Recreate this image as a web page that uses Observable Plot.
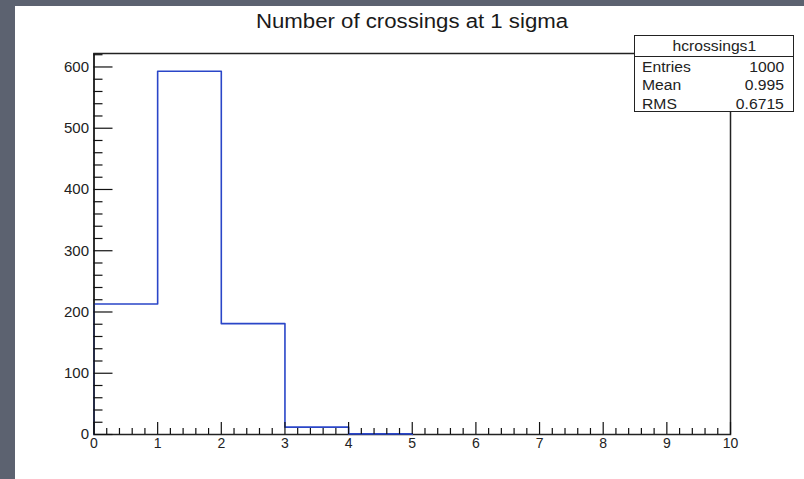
<!DOCTYPE html>
<html><head><meta charset="utf-8">
<script src="https://cdn.jsdelivr.net/npm/d3@7"></script>
<script src="https://cdn.jsdelivr.net/npm/@observablehq/plot@0.6"></script>
<style>
html,body{margin:0;padding:0;}
body{width:804px;height:479px;overflow:hidden;background:#5c6270;position:relative;font-family:"Liberation Sans",Arial,sans-serif;color:#222;}
#panel{position:absolute;left:15px;top:6px;width:789px;height:473px;background:#fff;}
#chart{position:absolute;left:0;top:0;}
#title{position:absolute;left:411.5px;top:11px;font-size:20px;line-height:20px;white-space:nowrap;transform:translateX(-50%) scaleX(1.11);color:#1a1a1a;}
#stats{position:absolute;left:634px;top:35px;width:158px;height:75px;border:1.5px solid #222;background:#fff;font-size:14px;}
#stats .hdr{position:absolute;left:0;top:0;width:100%;height:20px;border-bottom:1.5px solid #222;text-align:center;line-height:20px;}
#stats .row{position:absolute;left:7px;right:9px;height:18px;line-height:18px;}
#stats .row span.v{position:absolute;right:0;}
.sx{display:inline-block;transform:scaleX(1.12);transform-origin:left center;}
.sxr{display:inline-block;transform:scaleX(1.12);transform-origin:right center;}
.sxc{display:inline-block;transform:scaleX(1.12);transform-origin:center center;}
</style>
</head><body>
<div id="panel"></div>
<div id="chart"></div>
<div id="title"></div>
<div id="stats"></div>
<script>
// ---- data ----
const titleText = "Number of crossings at 1 sigma";
const binLowEdges = [0, 1, 2, 3, 4, 5];
const binCounts = [213, 593, 181, 12, 1];
const xTicks = [0, 1, 2, 3, 4, 5, 6, 7, 8, 9, 10];
const yTicks = [0, 100, 200, 300, 400, 500, 600];
const statsName = "hcrossings1";
const statsLabels = ["Entries", "Mean", "RMS"];
const statsValues = ["1000", "0.995", "0.6715"];

// minor ticks derived from the major tick lists
const xMinor = [];
for (let i = 0; i < xTicks.length - 1; i++) for (let k = 1; k < 5; k++) xMinor.push(xTicks[i] + k * (xTicks[i+1] - xTicks[i]) / 5);
const yMinor = [];
for (let i = 0; i < yTicks.length; i++) for (let k = 1; k < 5; k++) {
  const v = yTicks[i] + k * 20; if (v <= 620) yMinor.push(v);
}

const pts = [{x: binLowEdges[0], y: 0}];
binLowEdges.forEach((e, i) => pts.push({x: e, y: i < binCounts.length ? binCounts[i] : 0}));

const plot = Plot.plot({
  width: 804, height: 479,
  marginLeft: 93.5, marginRight: 74, marginTop: 53, marginBottom: 45,
  style: {background: "transparent", fontFamily: "Liberation Sans, Arial, sans-serif", fontSize: "15px", color: "#222"},
  x: {domain: [0, 10]},
  y: {domain: [0, 622]},
  marks: [
    Plot.frame({stroke: "#222", strokeWidth: 1.5}),
    Plot.line(pts, {x: "x", y: "y", curve: "step-after", stroke: "#2a46c8", strokeWidth: 1.6}),
    Plot.ruleX([0], {stroke: "#222", strokeWidth: 1.5}),
    Plot.axisY({ticks: yTicks, tickSize: -19, tickPadding: 24, fontSize: 15, label: null, stroke: "#111", strokeWidth: 1.2, fill: "#222"}),
    Plot.axisY({ticks: yMinor, tickSize: -9, tickFormat: () => "", label: null, stroke: "#111", strokeWidth: 1.2}),
    Plot.axisX({ticks: xTicks, tickSize: -12, tickPadding: 16, fontSize: 14, label: null, stroke: "#111", strokeWidth: 1.2, fill: "#222"}),
    Plot.axisX({ticks: xMinor, tickSize: -6, tickFormat: () => "", label: null, stroke: "#111", strokeWidth: 1.2})
  ]
});
plot.querySelectorAll("text").forEach(t => t.style.fontSize = t.closest("[aria-label='x-axis tick label']") ? "14px" : "15px");
document.getElementById("chart").appendChild(plot);
document.getElementById("title").textContent = titleText;

const stats = document.getElementById("stats");
const hdr = document.createElement("div");
hdr.className = "hdr";
hdr.innerHTML = `<span class="sxc"></span>`;
hdr.firstChild.textContent = statsName;
stats.appendChild(hdr);
statsLabels.forEach((lab, i) => {
  const r = document.createElement("div");
  r.className = "row";
  r.style.top = (20 + 1.5 + i * 18.5) + "px";
  const a = document.createElement("span"); a.className = "sx"; a.textContent = lab;
  const b = document.createElement("span"); b.className = "v sxr"; b.textContent = statsValues[i];
  r.appendChild(a); r.appendChild(b);
  stats.appendChild(r);
});
</script>
</body></html>
